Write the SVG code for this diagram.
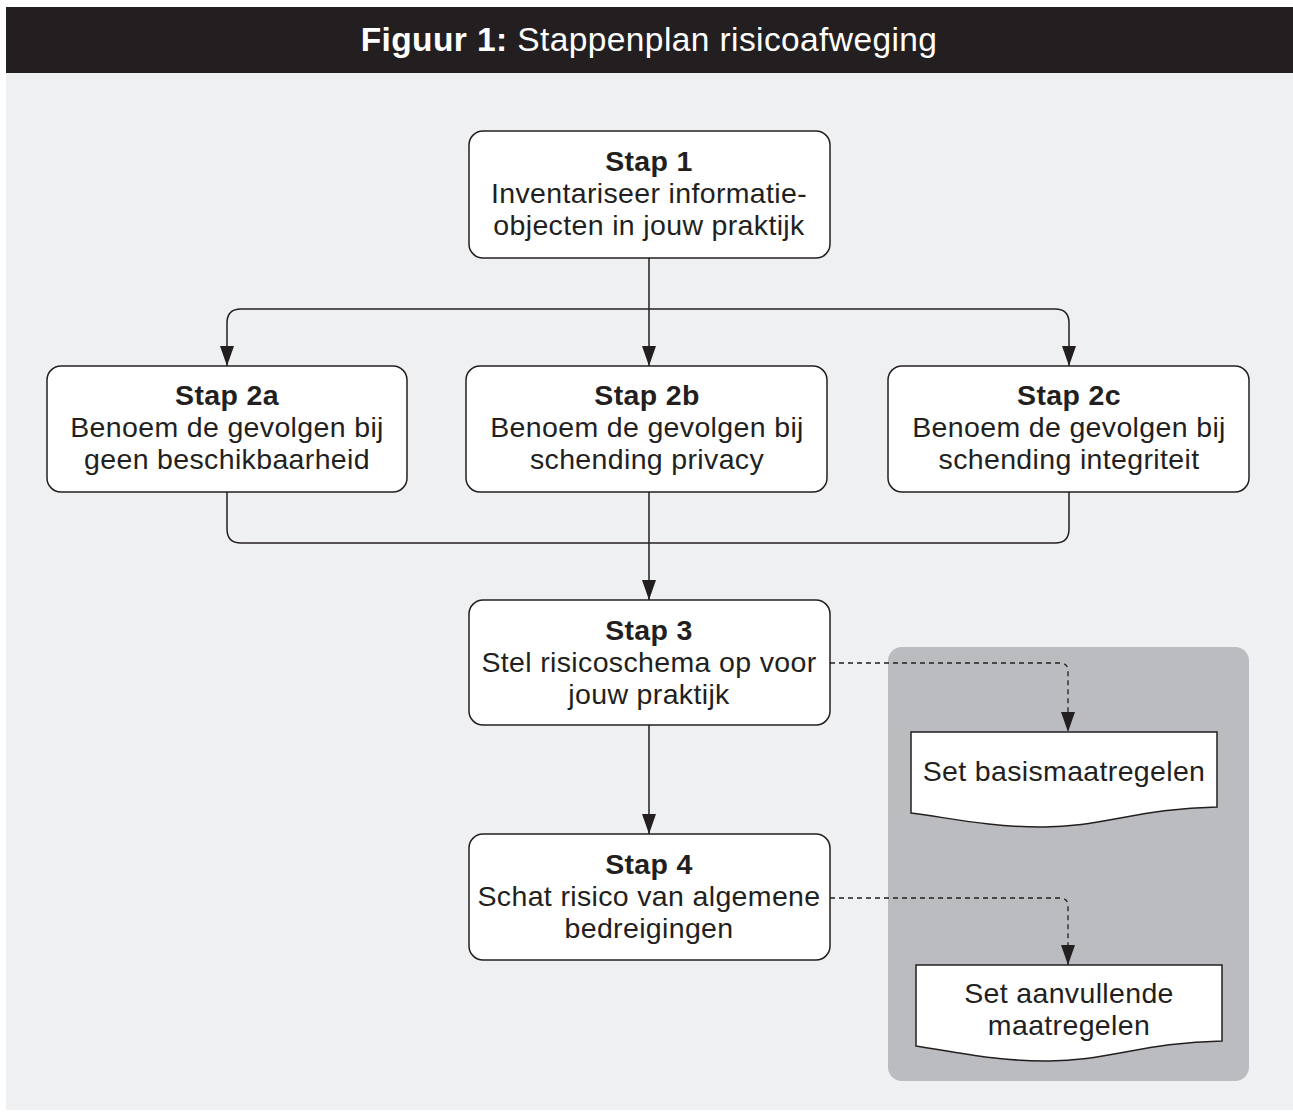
<svg xmlns="http://www.w3.org/2000/svg" width="1293" height="1118" viewBox="0 0 1293 1118">
<defs>
<style>
.node rect{fill:#fff;stroke:#231f20;stroke-width:1.5}
.t{font-family:"Liberation Sans",Arial,sans-serif;font-size:28.5px;letter-spacing:0.35px;fill:#231f20;text-anchor:middle}
.b{font-weight:bold}
.c{fill:none;stroke:#231f20;stroke-width:1.5}
.d{fill:none;stroke:#231f20;stroke-width:1.3;stroke-dasharray:5 4}
.doc{fill:#fff;stroke:#231f20;stroke-width:1.5}
</style>
<marker id="av" viewBox="0 0 14 20" refX="7" refY="20" markerWidth="14" markerHeight="20" markerUnits="userSpaceOnUse">
<path d="M0,0 L14,0 L7,20 Z" fill="#231f20"/>
</marker>
</defs>
<rect x="0" y="0" width="1293" height="1118" fill="#fff"/>
<rect x="6" y="72" width="1287" height="1038" fill="#eff0f2"/>
<rect x="6" y="7" width="1287" height="66" fill="#231f20"/>
<text x="649" y="51" font-family="'Liberation Sans',Arial,sans-serif" font-size="33.5" letter-spacing="0.4" fill="#fff" text-anchor="middle"><tspan font-weight="bold">Figuur 1:</tspan> Stappenplan risicoafweging</text>

<g id="panel"><rect x="888" y="647" width="361" height="434" rx="14" fill="#bbbcbf"/></g>

<g id="connectors">
<path class="c" d="M649,258 V366" marker-end="url(#av)"/>
<path class="c" d="M649,309 H241 Q227,309 227,323 V366" marker-end="url(#av)"/>
<path class="c" d="M649,309 H1055 Q1069,309 1069,323 V366" marker-end="url(#av)"/>
<path class="c" d="M227,492 V529 Q227,543 241,543 H1055 Q1069,543 1069,529 V492"/>
<path class="c" d="M649,492 V600" marker-end="url(#av)"/>
<path class="c" d="M649,725 V834" marker-end="url(#av)"/>
<path class="d" d="M830,663 H1060 Q1068,663 1068,671 V732" marker-end="url(#av)"/>
<path class="d" d="M830,898 H1060 Q1068,898 1068,906 V965" marker-end="url(#av)"/>
</g>

<g id="stap1" class="node"><rect x="469" y="131" width="361" height="127" rx="14"/>
<text class="t b" x="649" y="171">Stap 1</text><text class="t" x="649" y="203">Inventariseer informatie-</text><text class="t" x="649" y="235">objecten in jouw praktijk</text></g>

<g id="stap2a" class="node"><rect x="47" y="366" width="360" height="126" rx="14"/>
<text class="t b" x="227" y="405">Stap 2a</text><text class="t" x="227" y="437">Benoem de gevolgen bij</text><text class="t" x="227" y="469">geen beschikbaarheid</text></g>

<g id="stap2b" class="node"><rect x="466" y="366" width="361" height="126" rx="14"/>
<text class="t b" x="647" y="405">Stap 2b</text><text class="t" x="647" y="437">Benoem de gevolgen bij</text><text class="t" x="647" y="469">schending privacy</text></g>

<g id="stap2c" class="node"><rect x="888" y="366" width="361" height="126" rx="14"/>
<text class="t b" x="1069" y="405">Stap 2c</text><text class="t" x="1069" y="437">Benoem de gevolgen bij</text><text class="t" x="1069" y="469">schending integriteit</text></g>

<g id="stap3" class="node"><rect x="469" y="600" width="361" height="125" rx="14"/>
<text class="t b" x="649" y="640">Stap 3</text><text class="t" x="649" y="672">Stel risicoschema op voor</text><text class="t" x="649" y="704">jouw praktijk</text></g>

<g id="stap4" class="node"><rect x="469" y="834" width="361" height="126" rx="14"/>
<text class="t b" x="649" y="874">Stap 4</text><text class="t" x="649" y="906">Schat risico van algemene</text><text class="t" x="649" y="938">bedreigingen</text></g>

<g id="doc1"><path class="doc" d="M911,732 H1217 V807 C1140,808 1100,828 1040,827 C990,827 950,818 911,813 Z"/>
<text class="t" x="1064" y="781">Set basismaatregelen</text></g>

<g id="doc2"><path class="doc" d="M916,965 H1222 V1041 C1145,1042 1105,1062 1045,1061 C995,1061 955,1052 916,1046 Z"/>
<text class="t" x="1069" y="1003">Set aanvullende</text><text class="t" x="1069" y="1035">maatregelen</text></g>
</svg>
